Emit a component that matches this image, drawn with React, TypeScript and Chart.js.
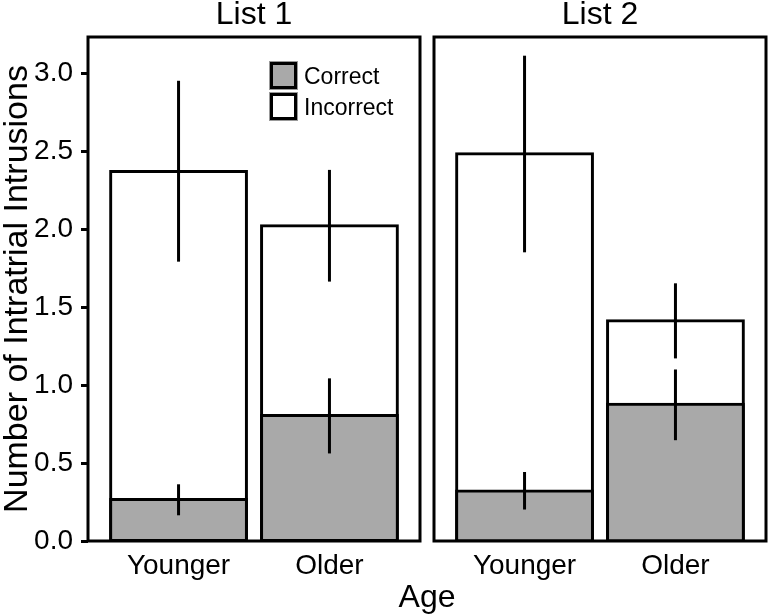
import React, { useEffect, useRef } from "react";
import { Chart, registerables } from "chart.js";

Chart.register(...registerables);

const FONT = "'Liberation Sans', Arial, Helvetica, sans-serif";

const panelTitles = ["List 1", "List 2"];
const categories = ["Younger", "Older"];
const seriesNames = ["Correct", "Incorrect"];
const seriesColors = ["#A9A9A9", "#FFFFFF"];

// List 1
const list1Correct = [0.266, 0.806];
const list1CorrectLow = [0.165, 0.562];
const list1CorrectHigh = [0.364, 1.044];
const list1Incorrect = [2.371, 2.024];
const list1IncorrectLow = [1.793, 1.665];
const list1IncorrectHigh = [2.954, 2.382];

// List 2
const list2Correct = [0.321, 0.877];
const list2CorrectLow = [0.202, 0.647];
const list2CorrectHigh = [0.443, 1.101];
const list2Incorrect = [2.485, 1.414];
const list2IncorrectLow = [1.853, 1.172];
const list2IncorrectHigh = [3.115, 1.654];

const yTicks = [0, 0.5, 1, 1.5, 2, 2.5, 3];
const yMin = 0;
const yMax = 3.235;
const xTitle = "Age";
const yTitle = "Number of Intratrial Intrusions";

type PanelData = {
  title: string;
  values: number[][];
  lows: number[][];
  highs: number[][];
};

const panelsData: PanelData[] = [
  {
    title: panelTitles[0],
    values: [list1Correct, list1Incorrect],
    lows: [list1CorrectLow, list1IncorrectLow],
    highs: [list1CorrectHigh, list1IncorrectHigh],
  },
  {
    title: panelTitles[1],
    values: [list2Correct, list2Incorrect],
    lows: [list2CorrectLow, list2IncorrectLow],
    highs: [list2CorrectHigh, list2IncorrectHigh],
  },
];

function makeChart(canvas: HTMLCanvasElement, panelIndex: number) {
  const pd = panelsData[panelIndex];
  const first = panelIndex === 0;

  const overlayPlugin = {
    id: "overlay" + panelIndex,
    afterDatasetsDraw(chart: any) {
      const ctx = chart.ctx as CanvasRenderingContext2D;
      const xs = chart.scales.x;
      const ys = chart.scales.y;
      const area = chart.chartArea;
      ctx.save();
      // error bars
      ctx.strokeStyle = "#000";
      ctx.lineWidth = 3;
      ctx.lineCap = "butt";
      for (let s = 0; s < seriesNames.length; s++) {
        for (let i = 0; i < categories.length; i++) {
          const px = xs.getPixelForValue(i + 1);
          const y1 = ys.getPixelForValue(pd.lows[s][i]);
          const y2 = ys.getPixelForValue(pd.highs[s][i]);
          ctx.beginPath();
          ctx.moveTo(px, y1);
          ctx.lineTo(px, y2);
          ctx.stroke();
        }
      }
      // panel border
      ctx.lineWidth = 3;
      ctx.strokeRect(area.left, area.top, area.right - area.left, area.bottom - area.top);
      // panel title
      ctx.fillStyle = "#000";
      ctx.font = `32px ${FONT}`;
      ctx.textAlign = "center";
      ctx.textBaseline = "alphabetic";
      ctx.fillText(pd.title, (area.left + area.right) / 2, 24);

      if (first) {
        // legend
        ctx.font = `23px ${FONT}`;
        ctx.textAlign = "left";
        for (let s = 0; s < seriesNames.length; s++) {
          const bx = 270;
          const by = 62 + s * 31;
          ctx.fillStyle = seriesColors[s];
          ctx.fillRect(bx, by, 27, 27);
          ctx.strokeStyle = "#000";
          ctx.lineWidth = 3;
          ctx.strokeRect(bx + 1.5, by + 1.5, 24, 24);
          ctx.strokeStyle = "#999";
          ctx.lineWidth = 1;
          ctx.strokeRect(bx - 0.5, by - 0.5, 28, 28);
          ctx.fillStyle = "#000";
          ctx.fillText(seriesNames[s], 304, by + 22);
        }
        // x title
        ctx.font = `32px ${FONT}`;
        ctx.textAlign = "center";
        ctx.fillText(xTitle, 427, 607);
        // y title
        ctx.font = `34px ${FONT}`;
        ctx.save();
        ctx.translate(27, (area.top + area.bottom) / 2);
        ctx.rotate(-Math.PI / 2);
        ctx.fillText(yTitle, 0, 0);
        ctx.restore();
      }
      ctx.restore();
    },
  };

  const datasets = seriesNames.map((name, s) => ({
    label: name,
    data: categories.map((_, i) => ({ x: i + 1, y: pd.values[s][i] })),
    backgroundColor: seriesColors[s],
    borderColor: "#000",
    borderWidth: 3,
    borderSkipped: false as const,
    grouped: false,
    barPercentage: 0.9,
    categoryPercentage: 1,
    inflateAmount: 1.5,
  }));

  return new Chart(canvas, {
    type: "bar",
    data: { datasets: datasets as any },
    options: {
      animation: false,
      responsive: false,
      maintainAspectRatio: false,
      layout: {
        padding: first
          ? { top: 37, left: 0, right: 349, bottom: 0 }
          : { top: 37, left: 434, right: 3, bottom: 0 },
      },
      plugins: {
        legend: { display: false },
        tooltip: { enabled: false },
        title: { display: false },
      },
      scales: {
        x: {
          type: "linear",
          min: 0.4,
          max: 2.6,
          offset: false,
          afterBuildTicks: (scale: any) => {
            scale.ticks = categories.map((_, i) => ({ value: i + 1 }));
          },
          afterFit: (scale: any) => {
            scale.height = 75;
            scale.paddingLeft = 0;
            scale.paddingRight = 0;
          },
          grid: { display: false, drawTicks: false },
          border: { display: false },
          ticks: {
            autoSkip: false,
            maxRotation: 0,
            padding: 8,
            color: "#000",
            font: { size: 28, family: FONT },
            callback: (v: any) => categories[Math.round(Number(v)) - 1] ?? "",
          },
        },
        y: {
          type: "linear",
          min: yMin,
          max: yMax,
          display: first,
          afterBuildTicks: (scale: any) => {
            scale.ticks = yTicks.map((v) => ({ value: v }));
          },
          afterFit: (scale: any) => {
            scale.width = first ? 88 : 0;
            scale.paddingTop = 0;
            scale.paddingBottom = 0;
          },
          grid: {
            drawOnChartArea: false,
            drawTicks: true,
            tickLength: 7,
            tickWidth: 3,
            tickColor: "#000",
          },
          border: { display: false },
          ticks: {
            padding: 8,
            color: "#000",
            font: { size: 28, family: FONT },
            callback: (v: any) => Number(v).toFixed(1),
          },
        },
      },
    },
    plugins: [overlayPlugin],
  } as any);
}

export default function App() {
  const ref1 = useRef<HTMLCanvasElement>(null);
  const ref2 = useRef<HTMLCanvasElement>(null);

  useEffect(() => {
    Chart.defaults.font.family = FONT;
    const c1 = ref1.current ? makeChart(ref1.current, 0) : null;
    const c2 = ref2.current ? makeChart(ref2.current, 1) : null;
    return () => {
      c1?.destroy();
      c2?.destroy();
    };
  }, []);

  const canvasStyle: React.CSSProperties = {
    position: "absolute",
    left: 0,
    top: 0,
    width: 769,
    height: 616,
  };

  return (
    <div
      style={{
        position: "absolute",
        left: 0,
        top: 0,
        width: 769,
        height: 616,
        background: "#fff",
      }}
    >
      <canvas ref={ref1} width={769} height={616} style={canvasStyle} />
      <canvas ref={ref2} width={769} height={616} style={canvasStyle} />
    </div>
  );
}
